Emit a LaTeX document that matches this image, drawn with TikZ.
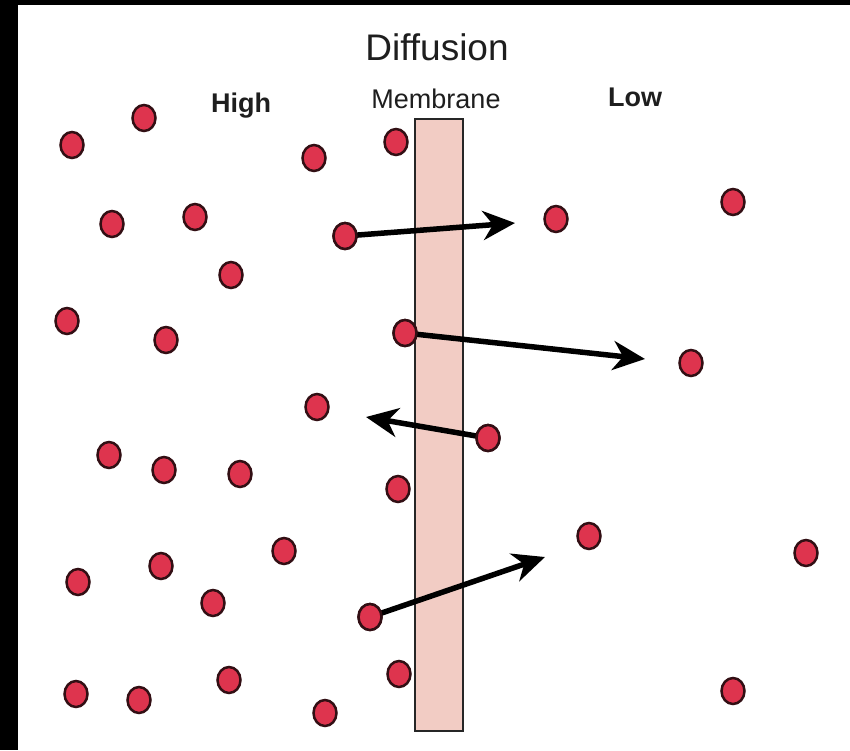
\documentclass[tikz,border=0pt]{standalone}
\usepackage{fontspec}
\setmainfont{Liberation Sans}
\usetikzlibrary{arrows.meta,shapes.geometric}
\definecolor{dotred}{RGB}{222,52,78}
\definecolor{dotline}{RGB}{50,15,20}
\definecolor{membr}{RGB}{242,204,196}
\definecolor{txt}{RGB}{30,30,30}
\begin{document}
\begin{tikzpicture}[x=1pt,y=-1pt,
  mol/.style={ellipse,draw=dotline,fill=dotred,line width=2.5pt,minimum width=23pt,minimum height=26pt,inner sep=0pt},
  flow/.style={line width=5.5pt,black,-{Stealth[length=32pt,width=29pt,inset=10pt]},shorten <=-4pt},
  lbl/.style={text=txt,inner sep=0pt,anchor=base}]
\useasboundingbox (0,0) rectangle (850,750);
\fill[white] (0,0) rectangle (850,750);
\fill[black] (0,0) rectangle (18,750);
\fill[black] (0,0) rectangle (850,5);
% membrane
\node[draw=black!85,fill=membr,line width=2.5pt,minimum width=48pt,minimum height=612pt,inner sep=0pt] (mem) at (439,425) {};
% labels
\node[lbl,font=\fontsize{37}{40}\selectfont] (title) at (437,60) {Diffusion};
\node[lbl,font=\fontsize{27}{30}\selectfont] (memlbl) at (436,108) {Membrane};
\node[lbl,font=\fontsize{27}{30}\selectfont\bfseries] (high) at (241,112) {High};
\node[lbl,font=\fontsize{27}{30}\selectfont\bfseries] (low) at (635,106) {Low};
% molecules
\node[mol] (d1) at (72,145) {};
\node[mol] (d2) at (144,118) {};
\node[mol] (d3) at (314,158) {};
\node[mol] (d4) at (396,142) {};
\node[mol] (d5) at (112,224) {};
\node[mol] (d6) at (195,217) {};
\node[mol] (d8) at (556,219) {};
\node[mol] (d9) at (733,202) {};
\node[mol] (d10) at (231,275) {};
\node[mol] (d11) at (67,321) {};
\node[mol] (d12) at (166,340) {};
\node[mol] (d14) at (691,363) {};
\node[mol] (d15) at (317,407) {};
\node[mol] (d17) at (109,455) {};
\node[mol] (d18) at (164,470) {};
\node[mol] (d19) at (240,474) {};
\node[mol] (d20) at (398,489) {};
\node[mol] (d21) at (284,551) {};
\node[mol] (d22) at (589,536) {};
\node[mol] (d23) at (806,553) {};
\node[mol] (d24) at (78,582) {};
\node[mol] (d25) at (161,566) {};
\node[mol] (d26) at (213,603) {};
\node[mol] (d28) at (399,674) {};
\node[mol] (d29) at (76,694) {};
\node[mol] (d30) at (139,700) {};
\node[mol] (d31) at (229,680) {};
\node[mol] (d32) at (325,713) {};
\node[mol] (d33) at (733,691) {};
% arrow end points
\coordinate (t1) at (515,223);
\coordinate (t2) at (645,359);
\coordinate (t3) at (366,417);
\coordinate (t4) at (545,557);
% moving molecules and arrows
\node[mol] (d7) at (345,236) {};
\node[mol] (d13) at (405,333) {};
\node[mol] (d16) at (488,438) {};
\node[mol] (d27) at (370,617) {};
\draw[flow] (d7) -- (t1);
\draw[flow] (d13) -- (t2);
\draw[flow] (d16) -- (t3);
\draw[flow] (d27) -- (t4);
\node[mol] at (d7) {};
\node[mol] at (d13) {};
\node[mol] at (d16) {};
\node[mol] at (d27) {};
\end{tikzpicture}
\end{document}
